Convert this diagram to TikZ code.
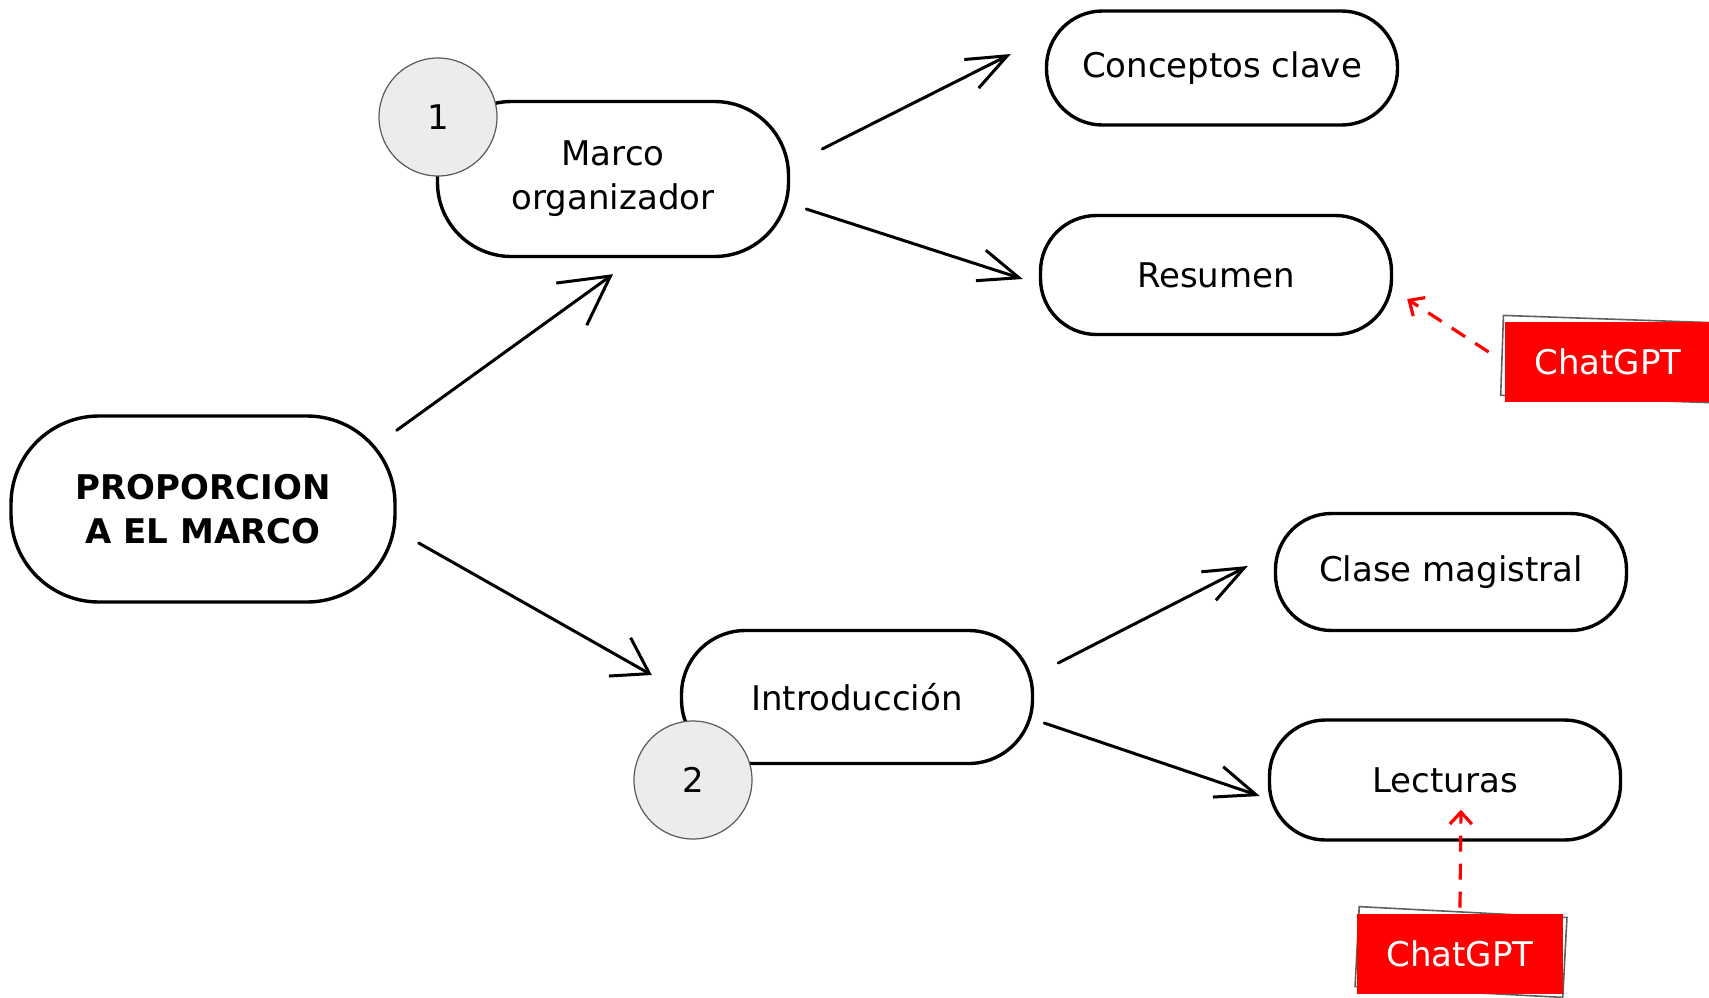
\documentclass[tikz,border=0pt]{standalone}
\usepackage{fontspec}
\setmainfont{DejaVu Sans}
\usetikzlibrary{arrows.meta}
\tikzset{  blob/.style={draw,line width=1.7pt,rounded corners=28pt,minimum width=175.5pt,align=center,font=\fontsize{17}{22}\selectfont},
  num/.style={circle,draw=gray!70!black,fill=gray!15,line width=0.6pt,minimum size=59pt,inner sep=0pt,font=\fontsize{17}{20}\selectfont},
  gpt/.style={fill=red,text=white,minimum width=103pt,minimum height=40pt,inner sep=0pt,font=\fontsize{17}{20}\selectfont},
  gptframe/.style={draw=gray!75!black,line width=0.8pt,minimum width=104pt,minimum height=40pt},
  link/.style={-{Straight Barb[length=20pt,width=16pt]},line width=1.5pt,line cap=round,line join=round},
  hint/.style={-{Straight Barb[length=6pt,width=11pt]},draw=red,line width=1.6pt,dash pattern=on 8pt off 6pt} }

\begin{document}
\begin{tikzpicture}[x=0.5pt,y=-0.5pt]
   \useasboundingbox (0,0) rectangle (1709,997);
   \node[blob,minimum width=192pt,minimum height=93pt,rounded corners=44pt,font=\bfseries\fontsize{17}{22}\selectfont] (prop) at (203,509) {PROPORCION\\A EL MARCO};
   \node[blob,minimum height=77.5pt,rounded corners=37pt] (marco) at (613,179) {Marco\\organizador};
   \node[blob,minimum height=57pt] (con) at (1222,68) {Conceptos clave};
   \node[blob,minimum height=59.5pt] (res) at (1216,275) {Resumen};
   \node[blob,minimum height=66.5pt,rounded corners=32pt] (intro) at (857,697) {Introducción};
   \node[blob,minimum height=58.5pt] (clase) at (1451,572) {Clase magistral};
   \node[blob,minimum height=60pt] (lec) at (1445,780) {Lecturas};
   \node[num] (n1) at (438,117) {1};
   \node[num] (n2) at (693,780) {2};
   \node[gptframe,rotate=-2] (f1) at (1606,359) {};
   \node[gpt] (gpt1) at (1608,362) {ChatGPT};
   \node[gptframe,rotate=-3] (f2) at (1461,952) {};
   \node[gpt] (gpt2) at (1460,954) {ChatGPT};
   \draw[link,-{Straight Barb[length=24pt,width=26pt]}] ([yshift=-8pt]prop.north east) -- ([yshift=-8pt]marco.south);
   \draw[link,-{Straight Barb[length=17pt,width=22pt]}] ([xshift=11pt,yshift=-17pt]prop.east) -- ([xshift=-14pt,yshift=11pt]intro.west);
   \draw[link] ([xshift=16pt,yshift=15pt]marco.east) -- ([xshift=-17pt,yshift=7pt]con.west);
   \draw[link] ([xshift=8pt,yshift=-15pt]marco.east) -- ([xshift=-8pt,yshift=-2pt]res.west);
   \draw[link] ([xshift=12pt,yshift=17pt]intro.east) -- ([xshift=-13pt,yshift=3pt]clase.west);
   \draw[link] ([xshift=5pt,yshift=-13pt]intro.east) -- ([xshift=-4pt,yshift=-8pt]lec.west);
   \draw[hint] ([xshift=-8pt,yshift=5pt]gpt1.west) -- ([xshift=7pt,yshift=-12pt]res.east);
   \draw[hint] ([yshift=3pt]gpt2.north) -- ([xshift=8pt,yshift=16pt]lec.south);
\end{tikzpicture}
\end{document}
